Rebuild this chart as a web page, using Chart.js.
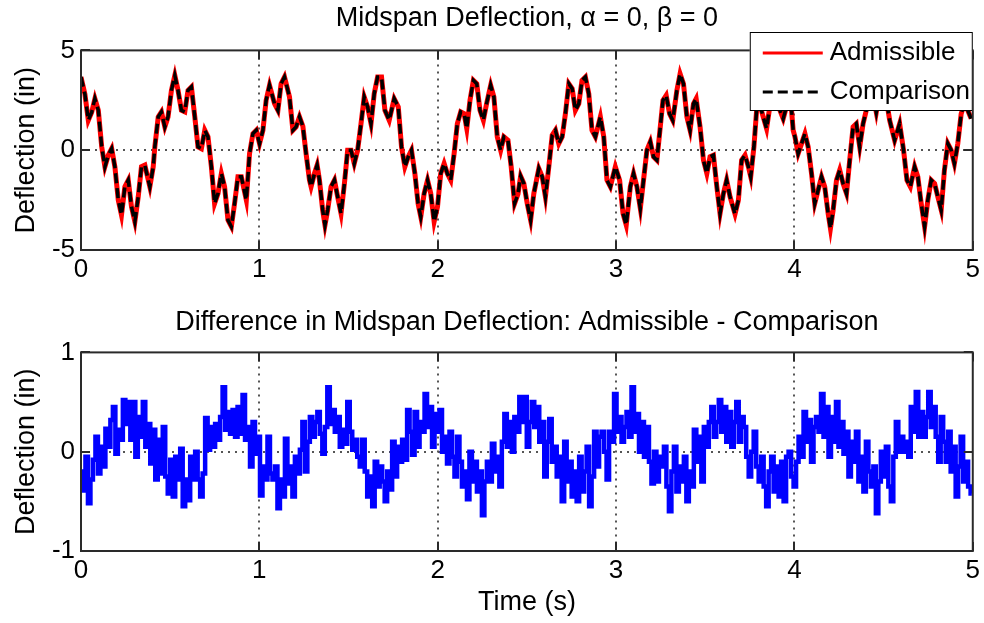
<!DOCTYPE html>
<html lang="en">
<head>
  <meta charset="UTF-8" />
  <title>Midspan Deflection</title>
  <script src="https://cdn.jsdelivr.net/npm/chart.js@4.4.0/dist/chart.umd.min.js"></script>
  <style>
    body { margin: 0; background: #fff; }
    .wrap { position: relative; width: 984px; height: 623px; background: #fff; }
    .wrap canvas { position: absolute; left: 0; }
    #deflection-chart { top: 0; }
    #difference-chart { top: 300px; }
  </style>
</head>
<body>
  <div class="wrap">
    <canvas id="deflection-chart" width="984" height="300"></canvas>
    <canvas id="difference-chart" width="984" height="323"></canvas>
  </div>

  <script>
    // midspan deflection (in) vs time (s)
    const midspanTime = [
      0.000, 0.022, 0.041, 0.060, 0.078, 0.097, 0.116, 0.134, 0.153, 0.172,
      0.190, 0.209, 0.227, 0.246, 0.265, 0.283, 0.302, 0.321, 0.339, 0.358,
      0.386, 0.405, 0.414, 0.433, 0.451, 0.470, 0.488, 0.507, 0.526, 0.544,
      0.563, 0.582, 0.600, 0.619, 0.638, 0.656, 0.675, 0.694, 0.712, 0.731,
      0.749, 0.768, 0.787, 0.805, 0.824, 0.843, 0.861, 0.880, 0.899, 0.927,
      0.945, 0.964, 0.983, 1.001, 1.020, 1.038, 1.057, 1.085, 1.104, 1.122,
      1.141, 1.169, 1.188, 1.206, 1.225, 1.244, 1.262, 1.281, 1.290, 1.309,
      1.324, 1.337, 1.355, 1.368, 1.383, 1.402, 1.421, 1.439, 1.458, 1.477,
      1.495, 1.514, 1.532, 1.551, 1.570, 1.588, 1.607, 1.626, 1.644, 1.663,
      1.685, 1.704, 1.728, 1.756, 1.779, 1.797, 1.816, 1.835, 1.853, 1.872,
      1.890, 1.905, 1.924, 1.943, 1.961, 1.980, 1.999, 2.017, 2.036, 2.054,
      2.073, 2.092, 2.110, 2.129, 2.148, 2.163, 2.181, 2.200, 2.219, 2.237,
      2.256, 2.274, 2.297, 2.315, 2.334, 2.353, 2.371, 2.394, 2.412, 2.431,
      2.450, 2.465, 2.483, 2.502, 2.521, 2.539, 2.567, 2.586, 2.604, 2.623,
      2.642, 2.660, 2.679, 2.698, 2.716, 2.735, 2.754, 2.772, 2.791, 2.809,
      2.828, 2.847, 2.865, 2.884, 2.912, 2.931, 2.949, 2.968, 2.996, 3.020,
      3.039, 3.057, 3.080, 3.098, 3.117, 3.136, 3.154, 3.173, 3.192, 3.210,
      3.229, 3.248, 3.263, 3.281, 3.300, 3.318, 3.341, 3.359, 3.378, 3.397,
      3.415, 3.434, 3.449, 3.471, 3.490, 3.509, 3.527, 3.546, 3.565, 3.583,
      3.602, 3.620, 3.639, 3.667, 3.686, 3.704, 3.723, 3.742, 3.755, 3.773,
      3.788, 3.807, 3.825, 3.844, 3.863, 3.891, 3.919, 3.937, 3.956, 3.975,
      3.993, 4.003, 4.021, 4.040, 4.059, 4.077, 4.096, 4.114, 4.133, 4.152,
      4.170, 4.189, 4.202, 4.217, 4.236, 4.254, 4.273, 4.292, 4.310, 4.329,
      4.347, 4.366, 4.385, 4.403, 4.431, 4.459, 4.487, 4.511, 4.534, 4.562,
      4.590, 4.612, 4.631, 4.650, 4.674, 4.692, 4.711, 4.730, 4.748, 4.767,
      4.786, 4.804, 4.823, 4.841, 4.860, 4.879, 4.897, 4.916, 4.935, 4.953,
      4.972, 4.991
    ];
    const midspanDeflection = [
      3.67, 2.8, 1.5, 1.9, 2.58, 2.0, 0.17, -0.83, -0.25, 0.08,
      -0.83, -2.5, -3.25, -1.83, -1.5, -2.83, -3.58, -2.33, -0.83, -0.75,
      -1.83, -0.83, 0.17, 1.67, 1.92, 1.17, 1.67, 3.0, 3.75, 3.0,
      2.0, 1.92, 3.0, 3.17, 1.67, 0.17, 0.08, 1.0, 0.67, -0.83,
      -2.67, -2.17, -1.17, -1.83, -3.5, -3.83, -2.67, -1.33, -1.33, -2.5,
      -0.17, 0.83, 1.0, 0.33, 1.0, 2.5, 3.25, 2.33, 2.0, 3.33,
      3.67, 2.67, 1.0, 1.17, 1.67, 1.2, -0.17, -1.5, -1.83, -1.17,
      -0.75, -1.5, -3.0, -3.75, -3.0, -1.83, -1.5, -2.33, -3.17, -1.67,
      0.0, 0.0, -0.67, 0.0, 1.33, 2.67, 2.17, 1.33, 2.83, 3.67,
      3.67, 2.0, 1.5, 2.58, 2.17, 0.17, -0.83, -0.33, 0.0, -1.17,
      -2.67, -3.33, -2.17, -1.5, -2.17, -3.58, -2.83, -1.17, -0.67, -1.17,
      -1.5, -0.17, 1.33, 1.92, 1.83, 1.08, 2.5, 3.5, 3.33, 2.0,
      1.5, 2.33, 3.25, 2.67, 0.67, 0.0, 0.67, 0.5, -0.83, -2.67,
      -2.2, -1.3, -1.67, -2.67, -3.5, -2.17, -0.92, -1.33, -2.33, -0.83,
      0.75, 1.0, 0.33, 0.67, 1.83, 3.33, 3.08, 2.0, 2.33, 3.5,
      3.67, 2.83, 1.0, 0.67, 1.67, 0.67, -1.5, -1.83, -0.83, -1.5,
      -3.17, -3.75, -1.83, -1.17, -1.83, -2.92, -1.5, 0.0, 0.42, -0.33,
      -0.5, 1.17, 2.5, 2.75, 1.83, 1.5, 3.0, 3.83, 3.33, 1.67,
      1.0, 2.33, 2.58, 1.17, -0.5, -1.17, -0.33, -0.25, -1.83, -3.17,
      -2.17, -1.5, -2.33, -3.2, -2.5, -0.5, -0.25, -0.83, -1.33, 0.17,
      2.0, 2.25, 1.67, 1.08, 2.25, 3.3, 2.0, 1.58, 2.2, 3.0,
      1.0, 0.67, -0.17, 0.33, 0.83, 0.17, -1.17, -2.67, -2.0, -1.33,
      -1.83, -3.17, -3.92, -3.0, -1.5, -1.0, -1.67, -2.17, -0.5, 1.17,
      1.33, 0.17, 1.33, 2.0, 3.2, 1.9, 3.4, 2.8, 1.5, 0.5,
      1.33, 0.0, -1.5, -1.83, -0.83, -1.33, -2.67, -3.83, -2.5, -1.5,
      -1.67, -2.33, -3.0, -1.0, 0.33, 0.0, -0.67, 0.33, 1.83, 2.33,
      2.0, 1.58
    ];

    // difference admissible - comparison (in), sampled every diffStep seconds
    const diffStart = 0.004;
    const diffStep = 0.01398;
    const deflectionDifference = [
      -0.2, -0.39, -0.05, -0.52, -0.28, -0.08, 0.15, -0.22, 0.05, -0.15,
      0.23, 0.05, 0.32, 0.45, -0.02, 0.22, 0.12, 0.52, 0.28, 0.5,
      0.12, 0.5, -0.05, 0.35, 0.15, 0.5, 0.05, 0.28, -0.12, 0.22,
      -0.28, 0.12, -0.22, 0.25, -0.25, -0.42, -0.08, -0.45, -0.05, -0.28,
      0.03, -0.55, -0.28, -0.49, -0.05, -0.28, 0.0, -0.28, -0.45, -0.22,
      0.34, 0.02, 0.25, 0.05, 0.28, 0.12, 0.35, 0.65, 0.22, 0.4,
      0.18, 0.42, 0.15, 0.45, 0.18, 0.57, 0.12, 0.25, -0.15, 0.3,
      -0.02, 0.15, -0.44, -0.15, -0.28, 0.15, -0.22, -0.28, -0.15, -0.57,
      -0.28, -0.45, 0.13, -0.32, -0.15, -0.45, -0.05, -0.22, 0.02, 0.3,
      -0.2, 0.1, 0.35, 0.15, 0.3, 0.4, 0.18, -0.02, 0.25, 0.65,
      0.28, 0.42, 0.2, 0.35, 0.05, 0.22, 0.08, 0.5, 0.2, 0.02,
      0.12, -0.05, -0.15, 0.12, -0.2, -0.45, -0.25, -0.55, -0.1, -0.35,
      -0.15, -0.3, -0.5, -0.2, -0.38, 0.1, -0.25, 0.05, -0.1, 0.12,
      -0.08, 0.42, 0.2, -0.03, 0.4, 0.05, 0.3, 0.2, 0.58, 0.25,
      0.45, 0.05, 0.38, 0.2, 0.42, 0.0, 0.15, -0.12, 0.2, -0.05,
      -0.25, 0.15, -0.1, -0.35, -0.2, -0.48, 0.0, -0.3, -0.1, -0.4,
      -0.2, -0.64, -0.3, -0.1, -0.3, 0.08, -0.2, -0.05, -0.35, 0.1,
      0.38, 0.05, 0.3, 0.0, 0.35, 0.2, 0.55, 0.3,
      0.55, 0.05, 0.3, 0.5, 0.25, 0.45, 0.1, 0.3, -0.25, 0.1,
      0.33, -0.1, 0.05, -0.25, -0.05, -0.5, 0.1, -0.3, -0.1, -0.45,
      -0.2, -0.5, -0.05, -0.4, -0.2, 0.05, -0.55, -0.25, 0.2, -0.15,
      0.15, 0.2, 0.0, -0.28, 0.2, 0.1, 0.58, 0.2, 0.35, 0.1,
      0.25, 0.4, 0.15, 0.65, 0.2, 0.38, 0.0, 0.3, -0.05, 0.25,
      -0.1, -0.32, 0.0, -0.3, -0.05, -0.15, 0.05, -0.35, -0.6, -0.2,
      0.05, -0.4, -0.15, -0.3, -0.05, -0.5, -0.2, -0.35, 0.22, -0.1,
      0.15, -0.3, 0.25, 0.05, 0.3, 0.45, 0.15, 0.3, 0.52, 0.2,
      0.45, 0.1, 0.4, 0.05, 0.3, 0.5, 0.1, 0.35,
      0.25, -0.05, -0.25, 0.0, 0.2, -0.15, -0.3, -0.05, -0.35, -0.55,
      -0.2, -0.05, -0.4, -0.15, -0.45, -0.1, -0.5, -0.05, 0.0, -0.25,
      -0.35, -0.1, 0.15, -0.05, 0.4, 0.1, 0.32, -0.1, 0.25, 0.35,
      0.2, 0.58, 0.15, 0.45, -0.05, 0.35, 0.1, 0.5, 0.05, 0.3,
      -0.02, 0.2, -0.25, 0.1, -0.1, 0.2, -0.3, -0.05, -0.4, 0.1,
      -0.2, -0.35, -0.15, -0.62, -0.3, 0.0, -0.25, 0.05, -0.35, -0.5,
      -0.05, 0.3, 0.0, 0.15, 0.0, 0.1, -0.05, 0.45, 0.2, 0.6,
      0.15, 0.4, 0.15, 0.35, 0.6, 0.25, 0.45, 0.15, -0.1, 0.35,
      0.1, -0.1, 0.2, -0.2, 0.05, -0.45, -0.15, 0.15, -0.3, -0.1,
      -0.35, -0.42
    ];

    const timeTicks = [0, 1, 2, 3, 4, 5];
    const FONT = "'Liberation Sans', Arial, Helvetica, sans-serif";
    const TICK_SIZE = 26;
    const TITLE_SIZE = 27;

    // dotted grid under the data, box and inward tick marks over it
    const boxAxes = {
      id: 'boxAxes',
      beforeDatasetsDraw(chart) {
        const { ctx, chartArea: a, scales: { x, y } } = chart;
        ctx.save();
        ctx.strokeStyle = '#555';
        ctx.lineWidth = 2;
        ctx.setLineDash([2, 5]);
        ctx.beginPath();
        x.ticks.forEach(t => {
          if (t.value <= x.min || t.value >= x.max) return;
          const px = Math.round(x.getPixelForValue(t.value));
          ctx.moveTo(px, a.top);
          ctx.lineTo(px, a.bottom);
        });
        y.ticks.forEach(t => {
          if (t.value <= y.min || t.value >= y.max) return;
          const py = Math.round(y.getPixelForValue(t.value));
          ctx.moveTo(a.left, py);
          ctx.lineTo(a.right, py);
        });
        ctx.stroke();
        ctx.restore();
      },
      afterDatasetsDraw(chart) {
        const { ctx, chartArea: a, scales: { x, y } } = chart;
        const len = 9;
        ctx.save();
        ctx.strokeStyle = '#2a2a2a';
        ctx.lineWidth = 2;
        ctx.beginPath();
        x.ticks.forEach(t => {
          const px = Math.round(x.getPixelForValue(t.value));
          ctx.moveTo(px, a.bottom);
          ctx.lineTo(px, a.bottom - len);
          ctx.moveTo(px, a.top);
          ctx.lineTo(px, a.top + len);
        });
        y.ticks.forEach(t => {
          const py = Math.round(y.getPixelForValue(t.value));
          ctx.moveTo(a.left, py);
          ctx.lineTo(a.left + len, py);
          ctx.moveTo(a.right, py);
          ctx.lineTo(a.right - len, py);
        });
        ctx.stroke();
        ctx.strokeRect(a.left, a.top, a.right - a.left, a.bottom - a.top);
        ctx.restore();
      }
    };

    // legend box in the top right corner, overlapping the plot
    const cornerLegend = {
      id: 'cornerLegend',
      afterDraw(chart) {
        const { ctx, chartArea: a } = chart;
        const w = 223, h = 79, top = 32;
        const left = a.right - w;
        ctx.save();
        ctx.fillStyle = '#fff';
        ctx.fillRect(left, top, w, h);
        ctx.strokeStyle = '#000';
        ctx.lineWidth = 1;
        ctx.strokeRect(left + 0.5, top + 0.5, w - 1, h - 1);
        ctx.font = `${TICK_SIZE}px ${FONT}`;
        ctx.textBaseline = 'middle';
        chart.data.datasets.forEach((ds, i) => {
          const yy = top + 21 + i * 39;
          ctx.strokeStyle = ds.borderColor;
          ctx.lineWidth = 3;
          ctx.setLineDash(ds.borderDash || []);
          ctx.beginPath();
          ctx.moveTo(left + 13, yy);
          ctx.lineTo(left + 73, yy);
          ctx.stroke();
          ctx.setLineDash([]);
          ctx.fillStyle = '#000';
          ctx.fillText(ds.label, left + 80, yy);
        });
        ctx.restore();
      }
    };

    function panelOptions(opts) {
      return {
        responsive: false,
        animation: false,
        devicePixelRatio: 1,
        layout: { padding: { left: 0, right: 9, top: 0, bottom: 0 } },
        plugins: {
          legend: { display: false },
          tooltip: { enabled: false },
          title: {
            display: true,
            fullSize: false,
            text: opts.title,
            color: '#000',
            font: { family: FONT, size: TITLE_SIZE, weight: 'normal' },
            padding: opts.titlePadding
          }
        },
        scales: {
          x: {
            type: 'linear',
            min: 0,
            max: 5,
            afterBuildTicks: s => { s.ticks = timeTicks.map(v => ({ value: v })); },
            ticks: { color: '#000', font: { family: FONT, size: TICK_SIZE }, padding: 4, maxRotation: 0 },
            grid: { display: false, drawTicks: false },
            border: { display: false },
            title: {
              display: !!opts.xTitle,
              text: opts.xTitle,
              color: '#000',
              font: { family: FONT, size: TITLE_SIZE },
              padding: { top: 0, bottom: 4 }
            },
            afterFit: s => { s.height = opts.xHeight; }
          },
          y: {
            min: opts.yMin,
            max: opts.yMax,
            afterBuildTicks: s => { s.ticks = opts.yTicks.map(v => ({ value: v })); },
            ticks: { color: '#000', font: { family: FONT, size: TICK_SIZE }, padding: 6 },
            grid: { display: false, drawTicks: false },
            border: { display: false },
            title: {
              display: true,
              text: 'Deflection (in)',
              color: '#000',
              font: { family: FONT, size: TITLE_SIZE },
              padding: { top: 10, bottom: 0 }
            },
            afterFit: s => { s.width = 81; }
          }
        }
      };
    }

    const midspanPoints = midspanTime.map((t, i) => ({ x: t, y: midspanDeflection[i] }));
    const differencePoints = deflectionDifference.map((v, i) => ({ x: diffStart + i * diffStep, y: v }));

    new Chart(document.getElementById('deflection-chart'), {
      type: 'line',
      data: {
        datasets: [
          {
            label: 'Admissible',
            data: midspanPoints,
            borderColor: '#ff0000',
            borderWidth: 5,
            pointRadius: 0,
            tension: 0,
            order: 1
          },
          {
            label: 'Comparison',
            data: midspanPoints,
            borderColor: '#000000',
            borderWidth: 3.5,
            borderDash: [10, 5],
            pointRadius: 0,
            tension: 0,
            order: 0
          }
        ]
      },
      options: panelOptions({
        title: 'Midspan Deflection, \u03b1 = 0, \u03b2 = 0',
        titlePadding: { top: 2, bottom: 16 },
        yMin: -5, yMax: 5, yTicks: [-5, 0, 5],
        xHeight: 50
      }),
      plugins: [boxAxes, cornerLegend]
    });

    new Chart(document.getElementById('difference-chart'), {
      type: 'line',
      data: {
        datasets: [{
          label: 'Admissible - Comparison',
          data: differencePoints,
          borderColor: '#0000ff',
          borderWidth: 4.5,
          stepped: 'middle',
          pointRadius: 0,
          tension: 0
        }]
      },
      options: panelOptions({
        title: 'Difference in Midspan Deflection: Admissible - Comparison',
        titlePadding: { top: 6, bottom: 14 },
        yMin: -1, yMax: 1, yTicks: [-1, 0, 1],
        xTitle: 'Time (s)',
        xHeight: 72
      }),
      plugins: [boxAxes]
    });
  </script>
</body>
</html>
